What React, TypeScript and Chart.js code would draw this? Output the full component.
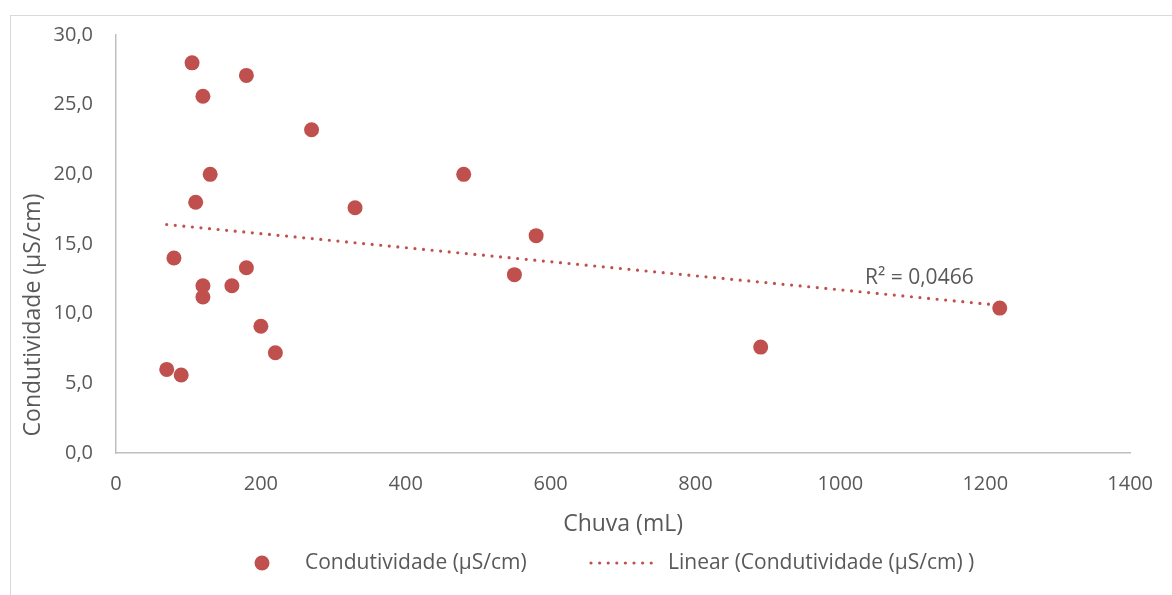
import React, { useEffect, useRef } from "react";
import { Chart, registerables } from "chart.js";

Chart.register(...registerables);

// Data
const chuva = [70, 90, 80, 105, 110, 120, 130, 120, 120, 160, 180, 180, 200, 220, 270, 330, 480, 550, 580, 890, 1220];
const condutividade = [6.0, 5.6, 14.0, 28.0, 18.0, 25.6, 20.0, 12.0, 11.2, 12.0, 27.1, 13.3, 9.1, 7.2, 23.2, 17.6, 20.0, 12.8, 15.6, 7.6, 10.4];
const trendX = [70, 1220];
const trendY = [16.4, 10.6];
const xTicks = [0, 200, 400, 600, 800, 1000, 1200, 1400];
const yTicks = [0, 5, 10, 15, 20, 25, 30];
const seriesLabel = "Condutividade (µS/cm)";
const trendLabel = "Linear (Condutividade (µS/cm) )";
const r2Label = "R² = 0,0466";
const xTitle = "Chuva (mL)";
const yTitle = "Condutividade (µS/cm)";

const RED = "#c0504d";
const TEXT = "#595959";
const AXIS = "#bfbfbf";
const FONT = "'Open Sans', sans-serif";

const overlayPlugin = {
  id: "overlay",
  afterDraw(chart: any) {
    const ctx = chart.ctx as CanvasRenderingContext2D;
    ctx.save();
    ctx.fillStyle = TEXT;
    // y axis title
    ctx.save();
    ctx.translate(33, 315);
    ctx.rotate(-Math.PI / 2);
    ctx.font = `23px ${FONT}`;
    ctx.textAlign = "center";
    ctx.textBaseline = "middle";
    ctx.fillText(yTitle, 0, 0);
    ctx.restore();
    // R² label
    ctx.font = `21px ${FONT}`;
    ctx.textAlign = "left";
    ctx.textBaseline = "middle";
    ctx.fillText(r2Label, 865, 278);
    // legend
    const ly = 563;
    ctx.fillStyle = RED;
    ctx.beginPath();
    ctx.arc(262, ly, 7.5, 0, Math.PI * 2);
    ctx.fill();
    ctx.strokeStyle = RED;
    ctx.lineWidth = 3.2;
    ctx.lineCap = "round";
    ctx.setLineDash([0, 8.6]);
    ctx.beginPath();
    ctx.moveTo(591, ly);
    ctx.lineTo(657, ly);
    ctx.stroke();
    ctx.setLineDash([]);
    ctx.fillStyle = TEXT;
    ctx.font = `21px ${FONT}`;
    ctx.fillText(seriesLabel, 305, ly);
    ctx.fillText(trendLabel, 668, ly);
    ctx.restore();
  },
};

export default function App() {
  const ref = useRef<HTMLCanvasElement | null>(null);

  useEffect(() => {
    if (!ref.current) return;
    const chart = new Chart(ref.current, {
      type: "scatter",
      data: {
        datasets: [
          {
            label: trendLabel,
            data: trendX.map((x, i) => ({ x, y: trendY[i] })),
            showLine: true,
            borderColor: RED,
            borderWidth: 3.2,
            borderDash: [0, 8.6],
            borderCapStyle: "round",
            pointRadius: 0,
            pointHoverRadius: 0,
            fill: false,
          },
          {
            label: seriesLabel,
            data: chuva.map((x, i) => ({ x, y: condutividade[i] })),
            backgroundColor: RED,
            borderColor: RED,
            borderWidth: 0,
            pointRadius: 7.5,
            pointHoverRadius: 7.5,
          },
        ],
      } as any,
      options: {
        responsive: false,
        animation: false,
        devicePixelRatio: 1,
        layout: { padding: { left: 0, top: 33, right: 39, bottom: 55 } },
        plugins: {
          legend: { display: false },
          tooltip: { enabled: false },
        },
        scales: {
          x: {
            type: "linear",
            min: 0,
            max: 1400,
            afterBuildTicks: (s: any) => {
              s.ticks = xTicks.map((v) => ({ value: v }));
            },
            afterFit: (s: any) => {
              s.height = 87;
            },
            grid: { display: false, drawTicks: false },
            border: { display: true, color: AXIS, width: 1.5 },
            ticks: {
              color: TEXT,
              font: { family: FONT, size: 20 },
              padding: 19,
              maxRotation: 0,
              callback: (v: any) => String(v),
            },
            title: {
              display: true,
              text: xTitle,
              color: TEXT,
              font: { family: FONT, size: 23 },
              padding: { top: 0, bottom: 2 },
            },
          },
          y: {
            type: "linear",
            min: 0,
            max: 30,
            afterBuildTicks: (s: any) => {
              s.ticks = yTicks.map((v) => ({ value: v }));
            },
            afterFit: (s: any) => {
              s.width = 116;
            },
            grid: { display: false, drawTicks: false },
            border: { display: true, color: AXIS, width: 1.5 },
            ticks: {
              color: TEXT,
              font: { family: FONT, size: 20 },
              padding: 23,
              callback: (v: any) => Number(v).toFixed(1).replace(".", ","),
            },
          },
        },
      } as any,
      plugins: [overlayPlugin],
    });
    return () => chart.destroy();
  }, []);

  return (
    <div
      style={{
        position: "absolute",
        left: 0,
        top: 0,
        width: 1172,
        height: 595,
        overflow: "hidden",
        background: "#ffffff",
      }}
    >
      <div
        style={{
          position: "absolute",
          left: 10,
          top: 15,
          width: 1200,
          height: 620,
          border: "1px solid #d9d9d9",
          boxSizing: "border-box",
        }}
      />
      <canvas
        ref={ref}
        width={1172}
        height={595}
        style={{ position: "absolute", left: 0, top: 0, width: 1172, height: 595 }}
      />
    </div>
  );
}
